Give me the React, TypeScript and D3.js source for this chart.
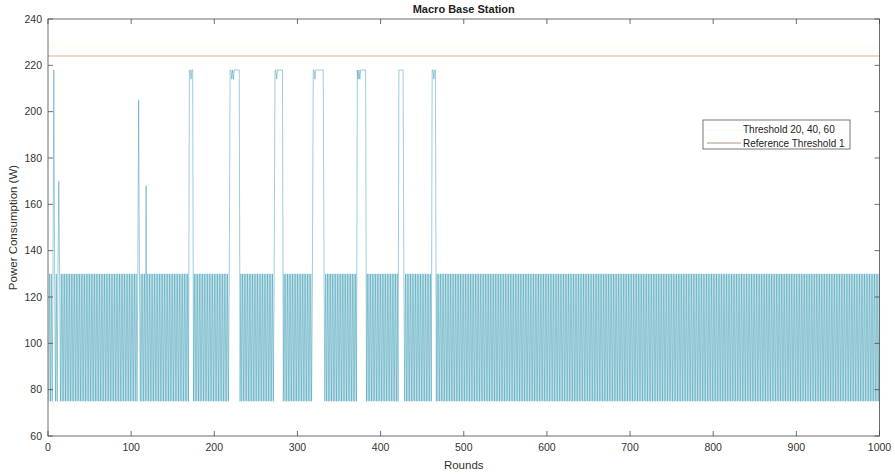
import React from "react";
import * as d3 from "d3";

// Value codes: one character per round
const codeValues: Record<string, number> = { a: 75, b: 130, c: 218, d: 214, e: 205, f: 168, g: 170 };

const ab = (n: number) => "ab".repeat(n);

const powerCodeRows: string[] = [
  "ababab" + "c" + "b" + "abab" + "g" + "b" + ab(18),
  ab(25),
  "abababab" + "e" + "b" + "abababa" + "f" + ab(16),
  ab(9) + "a" + "ccdcc" + ab(13),
  ab(9) + "ccdcdccccccc" + ab(10),
  ab(11) + "ccdccccccc" + ab(9),
  ab(9) + "ccdcccccccccc" + "b" + ab(9),
  ab(10) + "a" + "cdcdccccccc" + ab(9),
  ab(10) + "a" + "cccccc" + "b" + ab(11),
  ab(5) + "a" + "ccdcc" + ab(17),
  ab(25), ab(25), ab(25), ab(25), ab(25),
  ab(25), ab(25), ab(25), ab(25), ab(25),
];

const power: number[] = powerCodeRows.join("").split("").map((ch) => codeValues[ch]);
const rounds: number[] = power.map((_, i) => i + 1);

const referenceThreshold = 224;
const thresholdBand = [224, 230];

const xTicks = [0, 100, 200, 300, 400, 500, 600, 700, 800, 900, 1000];
const yTicks = [60, 80, 100, 120, 140, 160, 180, 200, 220, 240];

const legendLabels = ["Threshold 20, 40, 60", "Reference Threshold 1"];

const W = 895;
const H = 475;
const margin = { left: 48, right: 15, top: 19, bottom: 39 };

export default function App() {
  const x = d3.scaleLinear().domain([0, 1000]).range([margin.left, W - margin.right - 0.5]);
  const y = d3.scaleLinear().domain([60, 240]).range([H - margin.bottom, margin.top]);

  const line = d3
    .line<number>()
    .x((_, i) => x(rounds[i]))
    .y((d) => y(d));

  const x0 = x(0), x1 = x(1000), y0 = y(60), y1 = y(240);
  const axisColor = "#4a4a4a";
  const font = "'Liberation Sans', Arial, Helvetica, sans-serif";

  return (
    <svg
      width={W}
      height={H}
      style={{ position: "absolute", left: 0, top: 0, background: "#fff" }}
      fontFamily={font}
    >
      <defs>
        <clipPath id="plotclip">
          <rect x={x0} y={y1} width={x1 - x0} height={y0 - y1} />
        </clipPath>
      </defs>
      <rect x={x0} y={y1} width={x1 - x0} height={y0 - y1} fill="#fff" />
      <g clipPath="url(#plotclip)">
        <rect
          x={x0}
          y={y(thresholdBand[1])}
          width={x1 - x0}
          height={y(thresholdBand[0]) - y(thresholdBand[1])}
          fill="#fffcf9"
        />
        <line x1={x0} x2={x1} y1={y(referenceThreshold)} y2={y(referenceThreshold)} stroke="#ddcfc1" strokeWidth={1.6} />
        <path d={line(power) || ""} fill="none" stroke="#2692ad" strokeWidth={0.45} />
      </g>

      {/* axes box */}
      <rect x={x0} y={y1} width={x1 - x0} height={y0 - y1} fill="none" stroke={axisColor} strokeWidth={0.8} />

      {xTicks.map((t) => (
        <g key={"x" + t}>
          <line x1={x(t)} x2={x(t)} y1={y0} y2={y0 - 5} stroke={axisColor} strokeWidth={0.8} />
          <line x1={x(t)} x2={x(t)} y1={y1} y2={y1 + 5} stroke={axisColor} strokeWidth={0.8} />
          <text x={x(t)} y={y0 + 15} textAnchor="middle" fontSize={10.5} fill="#333">
            {t}
          </text>
        </g>
      ))}
      {yTicks.map((t) => (
        <g key={"y" + t}>
          <line x1={x0} x2={x0 + 5} y1={y(t)} y2={y(t)} stroke={axisColor} strokeWidth={0.8} />
          <line x1={x1} x2={x1 - 5} y1={y(t)} y2={y(t)} stroke={axisColor} strokeWidth={0.8} />
          <text x={x0 - 6} y={y(t) + 3.5} textAnchor="end" fontSize={10.5} fill="#333">
            {t}
          </text>
        </g>
      ))}

      <text x={(x0 + x1) / 2} y={13} textAnchor="middle" fontSize={11} fontWeight="bold" fill="#222">
        Macro Base Station
      </text>
      <text x={(x0 + x1) / 2} y={469} textAnchor="middle" fontSize={11.5} fill="#333">
        Rounds
      </text>
      <text
        transform={`translate(17,${(y0 + y1) / 2}) rotate(-90)`}
        textAnchor="middle"
        fontSize={11.5}
        fill="#333"
      >
        Power Consumption (W)
      </text>

      {/* legend */}
      <g>
        <rect x={703} y={120} width={147} height={29} fill="#fff" stroke="#555" strokeWidth={0.8} />
        <line x1={707} x2={741} y1={130} y2={130} stroke="#fcf6ef" strokeWidth={1} />
        <line x1={707} x2={741} y1={143} y2={143} stroke="#a89482" strokeWidth={1} />
        <text x={743} y={133} fontSize={10} fill="#222">
          {legendLabels[0]}
        </text>
        <text x={743} y={146.5} fontSize={10} fill="#222">
          {legendLabels[1]}
        </text>
      </g>
    </svg>
  );
}
